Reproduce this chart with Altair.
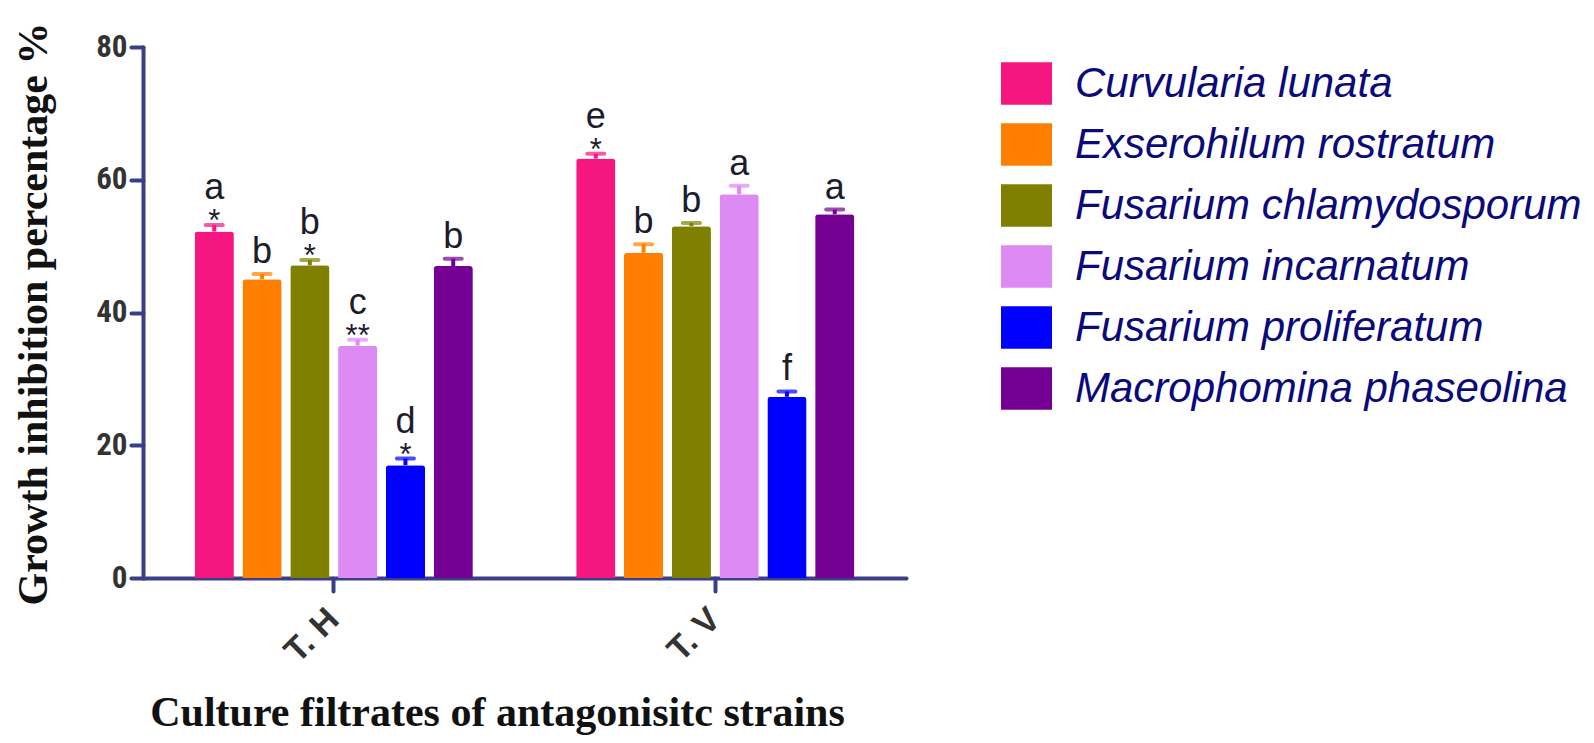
import altair as alt
import pandas as pd

groups = ["T. H", "T. V"]
species = [
    "Curvularia lunata",
    "Exserohilum rostratum",
    "Fusarium chlamydosporum",
    "Fusarium incarnatum",
    "Fusarium proliferatum",
    "Macrophomina phaseolina",
]
colors = ["#f5167f", "#ff8000", "#808000", "#de8af5", "#0000ff", "#740094"]

th_values = [52.2, 45.0, 47.1, 35.0, 17.0, 47.0]
th_err = [1.0, 0.8, 0.8, 0.9, 1.0, 1.1]
th_letters = ["a", "b", "b", "c", "d", "b"]
th_stars = ["*", "", "*", "**", "*", ""]

tv_values = [63.2, 49.0, 53.0, 57.8, 27.3, 54.8]
tv_err = [0.7, 1.3, 0.5, 1.3, 0.8, 0.7]
tv_letters = ["e", "b", "b", "a", "f", "a"]
tv_stars = ["*", "", "", "", "", ""]

rows = []
for g, vals, errs, lets, stars in [
    (groups[0], th_values, th_err, th_letters, th_stars),
    (groups[1], tv_values, tv_err, tv_letters, tv_stars),
]:
    for s, v, e, l, st in zip(species, vals, errs, lets, stars):
        rows.append(dict(group=g, species=s, value=v, top=v + e, letter=l,
                         star=st, has_star=(st != "")))
df = pd.DataFrame(rows)

AX = "#3a3e86"
W, H = 763, 531
NARROW = "Liberation Sans Narrow, Roboto Condensed, Liberation Sans"

x = alt.X(
    "group:N", sort=groups,
    scale=alt.Scale(paddingInner=0.2, paddingOuter=0.1),
    axis=alt.Axis(
        title="Culture filtrates of antagonisitc strains",
        titleFont="Liberation Serif", titleFontWeight="bold", titleFontSize=42,
        titleColor="#111111", titleX=354, titleY=147, titleAlign="center",
        titleBaseline="alphabetic",
        labelAngle=-45, labelAlign="right", labelBaseline="middle",
        labelFont="Liberation Sans", labelFontWeight="bold", labelFontSize=34,
        labelColor="#333333", labelPadding=23,
        domainColor=AX, domainWidth=4, domainCap="round",
        tickColor=AX, tickWidth=4, tickSize=13, tickCap="round",
    ),
)
xo = alt.XOffset("species:N", sort=species,
                 scale=alt.Scale(paddingInner=0.18, paddingOuter=0.283))
y = alt.Y(
    "value:Q",
    scale=alt.Scale(domain=[0, 80], nice=False),
    axis=alt.Axis(
        values=[0, 20, 40, 60, 80],
        title="Growth inhibition percentage %",
        titleFont="Liberation Serif", titleFontWeight="bold", titleFontSize=42,
        titleColor="#111111", titleX=-97, titleY=H / 2 + 1, titleAngle=270,
        titleAlign="center", titleBaseline="alphabetic",
        labelFont=NARROW, labelFontWeight="bold", labelFontSize=31,
        labelColor="#333333", labelPadding=4,
        domainColor=AX, domainWidth=4, domainCap="round",
        tickColor=AX, tickWidth=4, tickSize=12, tickCap="round",
        grid=False,
    ),
)
color = alt.Color(
    "species:N", sort=species,
    scale=alt.Scale(domain=species, range=colors),
    legend=alt.Legend(
        title=None, orient="none", legendX=862, legendY=15, padding=0,
        symbolType="M-1.2,-1H1.2V1H-1.2Z", symbolSize=1806,
        symbolStrokeWidth=0, symbolOpacity=1,
        labelFont="Liberation Sans", labelFontStyle="italic", labelFontSize=42,
        labelColor="#0a0a7a", labelOffset=27, labelLimit=700, rowPadding=18,
    ),
)

base = alt.Chart(df)
bars = base.mark_bar(cornerRadiusTopLeft=3, cornerRadiusTopRight=3).encode(
    x=x, xOffset=xo, y=y, color=color)
stems = base.mark_rule(strokeWidth=4).encode(
    x=x, xOffset=xo, y=y, y2="top:Q", color=color)
caps = base.mark_tick(thickness=4, size=21, cornerRadius=2).encode(
    x=x, xOffset=xo, y=alt.Y("top:Q"), color=color)
stars = base.transform_filter("datum.has_star").mark_text(
    font="Liberation Sans", fontSize=31, baseline="alphabetic", dy=6,
    color="#1c1c2c").encode(x=x, xOffset=xo, y=alt.Y("top:Q"), text="star:N")
let_star = base.transform_filter("datum.has_star").mark_text(
    font="Liberation Sans", fontSize=36, baseline="alphabetic", dy=-26,
    color="#1c1c2c").encode(x=x, xOffset=xo, y=alt.Y("top:Q"), text="letter:N")
let_plain = base.transform_filter("!datum.has_star").mark_text(
    font="Liberation Sans", fontSize=36, baseline="alphabetic", dy=-11,
    color="#1c1c2c").encode(x=x, xOffset=xo, y=alt.Y("top:Q"), text="letter:N")

chart = alt.layer(bars, stems, caps, stars, let_star, let_plain).properties(
    width=W, height=H,
    autosize=alt.AutoSizeParams(type="none"),
    padding={"left": 135, "top": 39, "right": 680, "bottom": 157},
    background="white",
).configure_view(stroke=None)

chart.save("out.html", embed_options={"renderer": "svg", "actions": False})
